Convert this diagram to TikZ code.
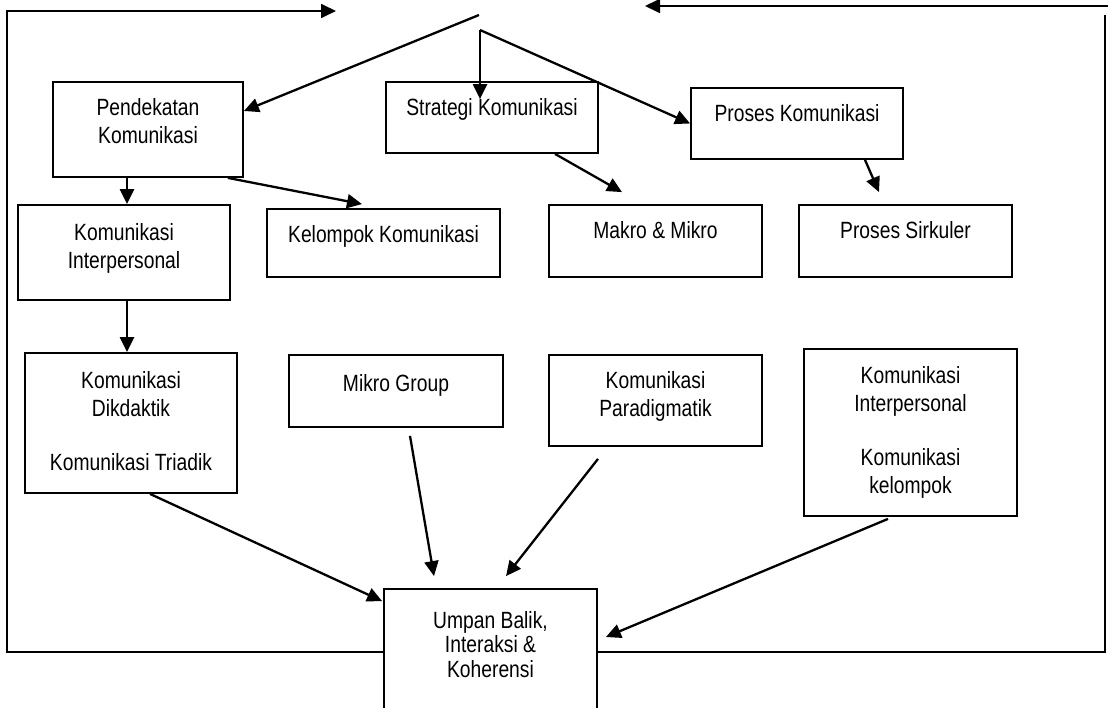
\documentclass[tikz,border=0pt]{standalone}
\usepackage{fontspec}
\setmainfont{Liberation Sans}[FakeStretch=0.82]
\usetikzlibrary{arrows.meta,positioning}

\begin{document}
\begin{tikzpicture}[
    x=1pt, y=-1pt,
    box/.style={draw, line width=1.8pt, inner sep=0pt,
                minimum width=212pt, minimum height=72pt},
    txt/.style={inner sep=0pt, align=center,
                font=\fontsize{23.5}{28}\selectfont},
    arrow/.style={-{Triangle[length=15pt, width=14pt]}, line width=2.3pt},
    frame/.style={line width=1.8pt}
  ]
  \useasboundingbox (0,0) rectangle (1109,708);

  % boxes
  \node[box, minimum width=190pt, minimum height=95pt] (pend) at (148,129.5) {};
  \node[box, minimum height=71pt] (strat) at (492,117.5) {};
  \node[box, minimum height=71pt] (pros) at (797,123.5) {};

  \node[box, minimum height=95pt] (komint) at (124,252.5) {};
  \node[box, minimum width=233pt, minimum height=68pt] (kel) at (383.5,243) {};
  \node[box, minimum width=213pt] (makro) at (655.5,241) {};
  \node[box, minimum width=213pt] (sirk) at (905.5,241) {};

  \node[box, minimum height=140pt] (dik) at (131,423) {};
  \node[box, minimum width=214pt] (mik) at (396,391) {};
  \node[box, minimum width=213pt, minimum height=91pt] (para) at (655.5,400.5) {};
  \node[box, minimum width=213pt, minimum height=167pt] (kk) at (910.5,432.5) {};

  \node[box, minimum width=213pt, minimum height=126pt] (umpan) at (490.5,652) {};

  % texts
  \node[txt, below=17pt of pend.north] (pendT) {Pendekatan\\Komunikasi};
  \node[txt, below=17pt of strat.north] (stratT) {Strategi Komunikasi};
  \node[txt, below=17pt of pros.north] (prosT) {Proses Komunikasi};
  \node[txt, below=19pt of komint.north] (komintT) {Komunikasi\\Interpersonal};
  \node[txt, below=17pt of kel.north] (kelT) {Kelompok Komunikasi};
  \node[txt, below=17pt of makro.north] (makroT) {Makro \& Mikro};
  \node[txt, below=17pt of sirk.north] (sirkT) {Proses Sirkuler};
  \node[txt, below=19pt of dik.north] (dikT) {Komunikasi\\Dikdaktik\\[26pt]Komunikasi Triadik};
  \node[txt, below=20pt of mik.north] (mikT) {Mikro Group};
  \node[txt, below=17pt of para.north] (paraT) {Komunikasi\\Paradigmatik};
  \node[txt, below=18pt of kk.north] (kkT) {Komunikasi\\Interpersonal\\[26pt]Komunikasi\\kelompok};
  \node[txt, font=\fontsize{23.5}{24.5}\selectfont, below=23pt of umpan.north] (umpanT) {Umpan Balik,\\Interaksi \&\\Koherensi};

  % free ends of the frame and the top hub
  \coordinate (cornerL) at (7,11);
  \coordinate (topL) at (336,11);
  \coordinate (cornerR) at (1105,15);
  \coordinate (edgeR) at (1108,6);
  \coordinate (topR) at (645,6);
  \coordinate (hubA) at (479,15);
  \coordinate (hubB) at (480,30);

  % frame
  \draw[frame, -{Triangle[length=15pt, width=14pt]}] (umpan.west) -| (cornerL) -- (topL);
  \draw[frame] (umpan.east) -| (cornerR);
  \draw[frame, -{Triangle[length=15pt, width=14pt]}] (edgeR) -- (topR);

  % from the top
  \draw[arrow] (hubA) -- ([yshift=18.5pt]pend.east);
  \draw[arrow] (hubB) -- ([xshift=-12pt, yshift=-18pt]strat.north);
  \draw[arrow, line join=round] (hubB) -- (pros.west);

  \draw[arrow] ([xshift=-21pt]pend.south) -- ([xshift=3pt]komint.north);
  \draw[arrow] ([xshift=-16pt]pend.south east) -- ([xshift=-21.5pt, yshift=4pt]kel.north);
  \draw[arrow] ([xshift=63pt]strat.south) -- ([xshift=-33.5pt, yshift=12pt]makro.north);
  \draw[arrow] ([xshift=68pt]pros.south) -- ([xshift=-26.5pt, yshift=12pt]sirk.north);
  \draw[arrow] ([xshift=3pt]komint.south) -- ([xshift=-4pt]dik.north);

  % into feedback box
  \draw[arrow] ([xshift=19pt]dik.south) -- ([xshift=-1pt, yshift=-13pt]umpan.north west);
  \draw[arrow] ([xshift=14pt, yshift=-8pt]mik.south) -- ([xshift=-56.5pt, yshift=12pt]umpan.north);
  \draw[arrow] ([xshift=-57.5pt, yshift=-12pt]para.south) -- ([xshift=15.5pt, yshift=12pt]umpan.north);
  \draw[arrow] ([xshift=-22.5pt, yshift=-2pt]kk.south) -- ([xshift=8pt, yshift=15pt]umpan.east);

\end{tikzpicture}
\end{document}
